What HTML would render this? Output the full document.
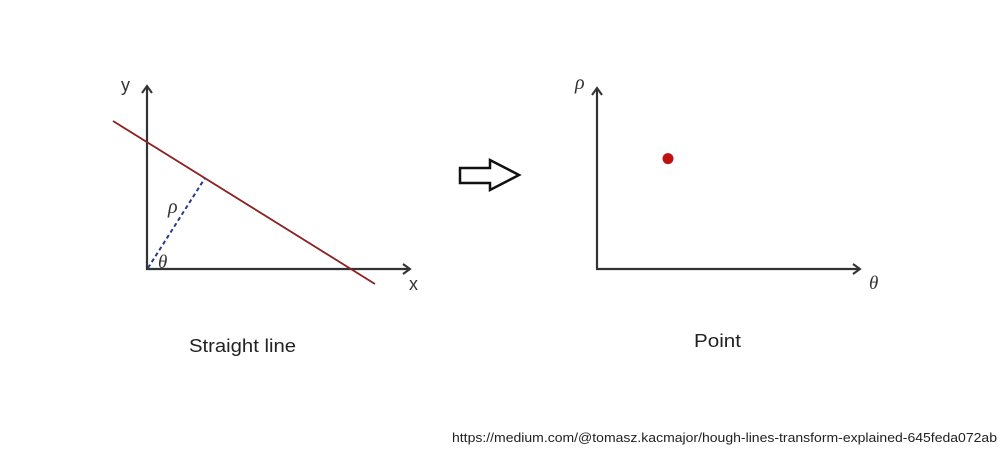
<!DOCTYPE html>
<html><head><meta charset="utf-8"><style>
body{margin:0;background:#fff;width:1000px;height:449px;overflow:hidden;font-family:"Liberation Sans",sans-serif}
</style></head><body>
<svg width="1000" height="449" viewBox="0 0 1000 449">
<defs>
<marker id="ah" markerWidth="12" markerHeight="12" refX="9" refY="6" orient="auto" markerUnits="userSpaceOnUse">
<path d="M2,1 L9,6 L2,11" fill="none" stroke="#333" stroke-width="2"/>
</marker>
</defs>
<g>
<line x1="147" y1="269" x2="147" y2="86" stroke="#333" stroke-width="2.2" marker-end="url(#ah)"/>
<line x1="146" y1="269" x2="410" y2="269" stroke="#333" stroke-width="2.2" marker-end="url(#ah)"/>
<line x1="113" y1="121" x2="375" y2="284" stroke="#8b2020" stroke-width="1.8"/>
<line x1="148" y1="268" x2="205" y2="178" stroke="#2a3a8a" stroke-width="2" stroke-dasharray="4,3"/>
<text x="121" y="91" font-size="18" fill="#333">y</text>
<text x="409" y="290" font-size="18" fill="#333">x</text>
<text x="168" y="213" font-size="20" font-style="italic" fill="#333" font-family="Liberation Serif, serif">ρ</text>
<text x="158" y="268" font-size="19" font-style="italic" fill="#333" font-family="Liberation Serif, serif">θ</text>
<text x="189" y="352" font-size="18" fill="#222" textLength="107" lengthAdjust="spacingAndGlyphs">Straight line</text>
</g>
<path d="M460,168 L490,168 L490,160 L519,175 L490,190 L490,183 L460,183 Z" fill="#fff" stroke="#111" stroke-width="2.5" stroke-linejoin="miter"/>
<g id="hs">
<line x1="597" y1="269" x2="597" y2="88" stroke="#333" stroke-width="2.2" marker-end="url(#ah)"/>
<line x1="596" y1="269" x2="860" y2="269" stroke="#333" stroke-width="2.2" marker-end="url(#ah)"/>
<text x="575" y="89" font-size="20" font-style="italic" fill="#333" font-family="Liberation Serif, serif">ρ</text>
<text x="869" y="289" font-size="19" font-style="italic" fill="#333" font-family="Liberation Serif, serif">θ</text>
<text x="694" y="347" font-size="18" fill="#222" textLength="47" lengthAdjust="spacingAndGlyphs">Point</text>
</g>
<text x="452" y="442" font-size="13" fill="#222" textLength="545" lengthAdjust="spacingAndGlyphs">https://medium.com/@tomasz.kacmajor/hough-lines-transform-explained-645feda072ab</text>
</svg>
<script>
// Hough space point (theta, rho) in normalized axis units 0..1
const thetaVals=[0.27];
const rhoVals=[0.61];
const x0=597,x1=860,y0=269,y1=88;
function xs(v){return x0+v*(x1-x0);}
function ys(v){return y0+v*(y1-y0);}
const g=document.getElementById('hs');
thetaVals.forEach((t,i)=>{
  const c=document.createElementNS('http://www.w3.org/2000/svg','circle');
  
  
  c.setAttribute('cx',xs(t));c.setAttribute('cy',ys(rhoVals[i]));
  c.setAttribute('r',5.5);c.setAttribute('fill','#c01010');
  g.appendChild(c);
});
</script>
</body></html>
